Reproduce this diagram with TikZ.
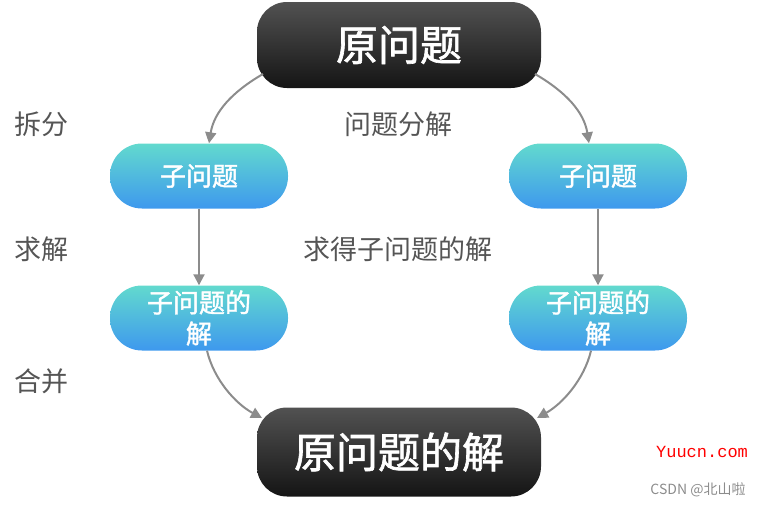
\documentclass[tikz,border=0pt]{standalone}
\usepackage{fontspec}
\newfontfamily\cjk{Noto Sans CJK SC}
\newfontfamily\cjkb{Noto Sans CJK SC}[FakeBold=1.5]
\usetikzlibrary{arrows.meta}
\definecolor{arr}{HTML}{8C8C8C}
\definecolor{lbl}{HTML}{555555}
\tikzset{
  x=1pt,y=-1pt,
  darkbox/.style={rounded corners=30pt, minimum width=284pt, top color=black!68, bottom color=black!92, text=white, font=\cjkb\fontsize{42}{46}\selectfont, inner sep=0pt},
  subbox/.style={rounded corners=32pt, minimum width=178pt, minimum height=65pt, top color={rgb,255:red,98;green,218;blue,206}, bottom color={rgb,255:red,62;green,152;blue,238}, text=white, font=\cjkb\fontsize{26}{31}\selectfont, align=center, inner sep=0pt},
  conn/.style={draw=arr, line width=2pt, -{Triangle[length=11pt,width=11pt]}},
  sidelabel/.style={text=lbl, font=\cjk\fontsize{27}{30}\selectfont},
}
\begin{document}
\begin{tikzpicture}
\useasboundingbox (0,0) rectangle (763,506);
\node[darkbox, minimum height=86pt] (top) at (399,45) {原问题};
\node[darkbox, minimum height=89pt] (bot) at (399,452) {原问题的解};
\node[subbox] (l1) at (199,176) {子问题};
\node[subbox] (r1) at (598,176) {子问题};
\node[subbox] (l2) at (199,318) {子问题的\\解};
\node[subbox] (r2) at (598,318) {子问题的\\解};
\coordinate (tl) at (263,74);
\coordinate (tr) at (535,74);
\coordinate (bl) at (262,418);
\coordinate (br) at (537,418);
\draw[conn] (tl) .. controls (232,92) and (214,112) .. (l1.north -| 209,0);
\draw[conn] (tr) .. controls (566,92) and (584,112) .. (r1.north -| 589,0);
\draw[conn] (l1) -- (l2);
\draw[conn] (r1) -- (r2);
\draw[conn] (l2.south -| 207,0) .. controls (214,380) and (236,404) .. (bl);
\draw[conn] (r2.south -| 591,0) .. controls (584,380) and (562,404) .. (br);
\node[sidelabel] (s1) at (41,124) {拆分};
\node[sidelabel] (s2) at (41,249) {求解};
\node[sidelabel] (s3) at (41,381) {合并};
\node[sidelabel] (m1) at (398,124) {问题分解};
\node[sidelabel] (m2) at (398,249) {求得子问题的解};
\node[text=red, font=\fontspec{Liberation Mono}\fontsize{17}{20}\selectfont] (w1) at (702,452) {Yuucn.com};
\node[text=black!45, font=\cjk\fontsize{14}{16}\selectfont] (w2) at (698,490) {CSDN @北山啦};
\end{tikzpicture}
\end{document}
